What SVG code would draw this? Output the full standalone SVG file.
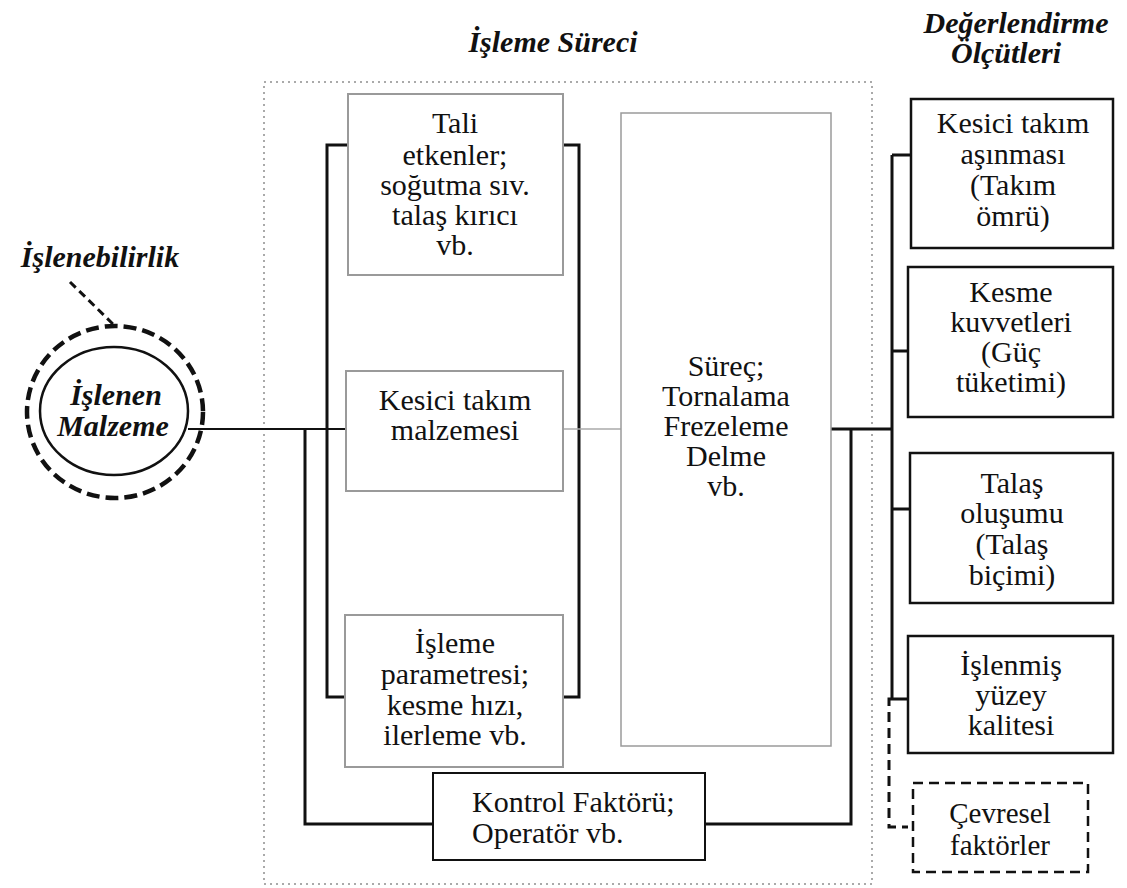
<svg xmlns="http://www.w3.org/2000/svg" width="1127" height="888" viewBox="0 0 1127 888">
<rect width="1127" height="888" fill="#fff"/>

<rect id="frame" x="264" y="82" width="608" height="802" fill="none" stroke="#aaa" stroke-width="2" stroke-dasharray="2 4"/>

<g id="titles">
  <text font-family="Liberation Serif" font-size="30" font-weight="bold" font-style="italic" text-anchor="middle" fill="#111" x="553" y="52">İşleme Süreci</text>
  <text font-family="Liberation Serif" font-size="30" font-weight="bold" font-style="italic" text-anchor="middle" fill="#111" x="1016" y="33">Değerlendirme</text>
  <text font-family="Liberation Serif" font-size="30" font-weight="bold" font-style="italic" text-anchor="middle" fill="#111" x="1006" y="63">Ölçütleri</text>
</g>

<g id="connectors" fill="none" stroke="#111">
  <path stroke-width="2" d="M188 429 H346"/>
  <path stroke-width="3" d="M305 429 V824 H433"/>
  <path stroke-width="3" d="M348 145 H327 V697 H345"/>
  <path stroke-width="3" d="M563 145 H579 V697 H563"/>
  <path stroke="#aaa" stroke-width="1.5" d="M563 429 H621"/>
  <path stroke-width="3" d="M831 429 H892"/>
  <path stroke-width="3" d="M851 429 V824 H705"/>
  <path stroke-width="3" d="M892 155 V699"/>
  <path stroke-width="3" d="M892 155 H911 M892 351 H908 M892 509 H910 M892 699 H908"/>
  <path stroke-width="3" stroke-dasharray="10 6" d="M892 699 H889 V827 H908"/>
  <path stroke-width="3" stroke-dasharray="8 5" d="M70 282 L116 327"/>
</g>

<g id="islenebilirlik">
  <text font-family="Liberation Serif" font-size="30" font-weight="bold" font-style="italic" text-anchor="middle" fill="#111" x="100" y="267">İşlenebilirlik</text>
</g>

<g id="islenen-malzeme">
  <ellipse cx="115" cy="412" rx="88" ry="86" fill="none" stroke="#111" stroke-width="4.5" stroke-dasharray="13 6"/>
  <ellipse cx="114" cy="411" rx="74" ry="64" fill="#fff" stroke="#111" stroke-width="2.5"/>
  <text font-family="Liberation Serif" font-size="30" font-weight="bold" font-style="italic" text-anchor="middle" fill="#111" x="116" y="405">İşlenen</text>
  <text font-family="Liberation Serif" font-size="30" font-weight="bold" font-style="italic" text-anchor="middle" fill="#111" x="113" y="436">Malzeme</text>
</g>

<g id="tali" font-family="Liberation Serif" font-size="30" text-anchor="middle" fill="#111">
  <rect x="348" y="94" width="215" height="181" fill="#fff" stroke="#9a9a9a" stroke-width="2"/>
  <text font-family="Liberation Serif" x="455" y="133">Tali</text>
  <text font-family="Liberation Serif" x="455" y="165">etkenler;</text>
  <text font-family="Liberation Serif" x="455" y="195">soğutma sıv.</text>
  <text font-family="Liberation Serif" x="455" y="225">talaş kırıcı</text>
  <text font-family="Liberation Serif" x="455" y="255">vb.</text>
</g>

<g id="kesici-malzeme" font-family="Liberation Serif" font-size="30" text-anchor="middle" fill="#111">
  <rect x="346" y="371" width="217" height="120" fill="#fff" stroke="#9a9a9a" stroke-width="2"/>
  <text font-family="Liberation Serif" x="455" y="410">Kesici takım</text>
  <text font-family="Liberation Serif" x="455" y="440">malzemesi</text>
</g>

<g id="isleme-param" font-family="Liberation Serif" font-size="30" text-anchor="middle" fill="#111">
  <rect x="345" y="615" width="218" height="152" fill="#fff" stroke="#9a9a9a" stroke-width="2"/>
  <text font-family="Liberation Serif" x="455" y="653">İşleme</text>
  <text font-family="Liberation Serif" x="455" y="684">parametresi;</text>
  <text font-family="Liberation Serif" x="455" y="715">kesme hızı,</text>
  <text font-family="Liberation Serif" x="455" y="745">ilerleme vb.</text>
</g>

<g id="surec" font-family="Liberation Serif" font-size="30" text-anchor="middle" fill="#111">
  <rect x="621" y="113" width="210" height="633" fill="#fff" stroke="#9a9a9a" stroke-width="1.5"/>
  <text font-family="Liberation Serif" x="726" y="376">Süreç;</text>
  <text font-family="Liberation Serif" x="726" y="406">Tornalama</text>
  <text font-family="Liberation Serif" x="726" y="436">Frezeleme</text>
  <text font-family="Liberation Serif" x="726" y="466">Delme</text>
  <text font-family="Liberation Serif" x="726" y="496">vb.</text>
</g>

<g id="kontrol" font-family="Liberation Serif" font-size="30" fill="#111">
  <rect x="433" y="773" width="272" height="87" fill="#fff" stroke="#111" stroke-width="2"/>
  <text font-family="Liberation Serif" text-anchor="start" x="472" y="812">Kontrol Faktörü;</text>
  <text font-family="Liberation Serif" text-anchor="start" x="472" y="843">Operatör vb.</text>
</g>

<g id="asinma" font-family="Liberation Serif" font-size="30" text-anchor="middle" fill="#111">
  <rect x="911" y="99" width="202" height="149" fill="#fff" stroke="#111" stroke-width="2.5"/>
  <text font-family="Liberation Serif" x="1013" y="133">Kesici takım</text>
  <text font-family="Liberation Serif" x="1013" y="164">aşınması</text>
  <text font-family="Liberation Serif" x="1013" y="195">(Takım</text>
  <text font-family="Liberation Serif" x="1013" y="226">ömrü)</text>
</g>

<g id="kuvvet" font-family="Liberation Serif" font-size="30" text-anchor="middle" fill="#111">
  <rect x="908" y="267" width="205" height="150" fill="#fff" stroke="#111" stroke-width="2.5"/>
  <text font-family="Liberation Serif" x="1011" y="302">Kesme</text>
  <text font-family="Liberation Serif" x="1011" y="332">kuvvetleri</text>
  <text font-family="Liberation Serif" x="1011" y="362">(Güç</text>
  <text font-family="Liberation Serif" x="1011" y="392">tüketimi)</text>
</g>

<g id="talas" font-family="Liberation Serif" font-size="30" text-anchor="middle" fill="#111">
  <rect x="910" y="453" width="203" height="150" fill="#fff" stroke="#111" stroke-width="2.5"/>
  <text font-family="Liberation Serif" x="1012" y="493">Talaş</text>
  <text font-family="Liberation Serif" x="1012" y="523">oluşumu</text>
  <text font-family="Liberation Serif" x="1012" y="554">(Talaş</text>
  <text font-family="Liberation Serif" x="1012" y="585">biçimi)</text>
</g>

<g id="yuzey" font-family="Liberation Serif" font-size="30" text-anchor="middle" fill="#111">
  <rect x="908" y="636" width="205" height="117" fill="#fff" stroke="#111" stroke-width="2.5"/>
  <text font-family="Liberation Serif" x="1011" y="675">İşlenmiş</text>
  <text font-family="Liberation Serif" x="1011" y="705">yüzey</text>
  <text font-family="Liberation Serif" x="1011" y="735">kalitesi</text>
</g>

<g id="cevresel" font-family="Liberation Serif" font-size="29" text-anchor="middle" fill="#111">
  <rect x="913" y="783" width="175" height="89" fill="none" stroke="#111" stroke-width="2.5" stroke-dasharray="10 6"/>
  <text font-family="Liberation Serif" x="1000" y="823">Çevresel</text>
  <text font-family="Liberation Serif" x="1000" y="855">faktörler</text>
</g>
</svg>
